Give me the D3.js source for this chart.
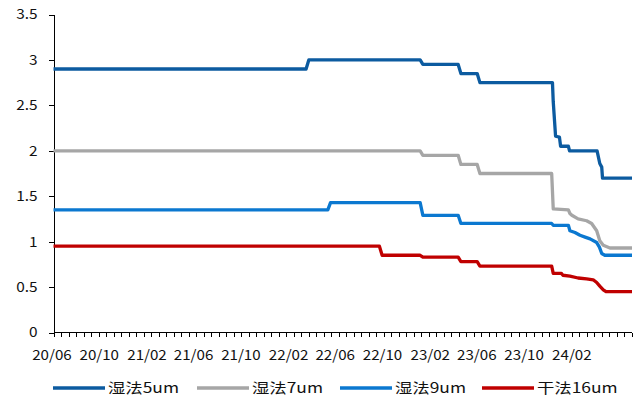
<!DOCTYPE html>
<html><head><meta charset="utf-8">
<script src="https://cdn.jsdelivr.net/npm/d3@7"></script>
<style>
body{margin:0;background:#fff}
svg{display:block}
text{font-family:"Noto Sans CJK SC","Noto Sans",sans-serif;fill:#111}
</style>
</head><body><svg id="c" width="640" height="400"></svg>
<script>
// ---- data ----
const seriesNames = ["湿法5um", "湿法7um", "湿法9um", "干法16um"];
const yTicks = [0, 0.5, 1, 1.5, 2, 2.5, 3, 3.5];
const xLabelDates = ["2020-06-01","2020-10-01","2021-02-01","2021-06-01","2021-10-01","2022-02-01",
                     "2022-06-01","2022-10-01","2023-02-01","2023-06-01","2023-10-01","2024-02-01"];
const dateStart = "2020-06-05";
const dateEnd = "2024-07-05";

const wet5 = [
  ["2020-06-05",2.90],["2022-03-18",2.90],["2022-03-25",3.00],["2023-01-06",3.00],["2023-01-13",2.95],
  ["2023-04-14",2.95],["2023-04-21",2.85],["2023-06-02",2.85],["2023-06-09",2.75],["2023-12-13",2.75],
  ["2023-12-15",2.54],["2023-12-21",2.16],["2023-12-31",2.15],["2024-01-03",2.05],["2024-01-23",2.05],
  ["2024-01-26",2.00],["2024-04-06",2.00],["2024-04-13",1.86],["2024-04-18",1.82],["2024-04-20",1.70],
  ["2024-07-05",1.70]
];
const wet7 = [
  ["2020-06-05",2.00],["2023-01-06",2.00],["2023-01-13",1.95],["2023-04-14",1.95],["2023-04-21",1.85],
  ["2023-06-02",1.85],["2023-06-09",1.75],["2023-12-11",1.75],["2023-12-15",1.36],["2024-01-23",1.35],
  ["2024-01-27",1.31],["2024-02-01",1.29],["2024-02-17",1.25],["2024-03-10",1.23],["2024-03-23",1.20],
  ["2024-04-05",1.12],["2024-04-13",1.01],["2024-04-22",0.96],["2024-05-09",0.93],["2024-07-05",0.93]
];
const wet9 = [
  ["2020-06-05",1.35],["2022-05-13",1.35],["2022-05-20",1.43],["2023-01-06",1.43],["2023-01-13",1.29],
  ["2023-04-14",1.29],["2023-04-21",1.20],["2023-12-11",1.20],["2023-12-15",1.18],["2024-01-23",1.18],
  ["2024-01-27",1.12],["2024-02-09",1.10],["2024-02-22",1.07],["2024-03-06",1.05],["2024-03-19",1.03],
  ["2024-04-05",0.99],["2024-04-12",0.94],["2024-04-18",0.87],["2024-04-26",0.85],["2024-07-05",0.85]
];
const dry16 = [
  ["2020-06-05",0.95],["2022-09-23",0.95],["2022-09-30",0.85],["2023-01-06",0.85],["2023-01-13",0.83],
  ["2023-04-14",0.83],["2023-04-21",0.78],["2023-06-02",0.78],["2023-06-09",0.73],["2023-12-11",0.73],
  ["2023-12-15",0.65],["2024-01-05",0.65],["2024-01-09",0.63],["2024-01-27",0.62],["2024-02-17",0.60],
  ["2024-03-10",0.59],["2024-03-27",0.58],["2024-04-05",0.55],["2024-04-13",0.51],["2024-04-22",0.47],
  ["2024-04-29",0.45],["2024-07-05",0.45]
];
const seriesData = [wet5, wet7, wet9, dry16];
const colors = ["#0c5ba0", "#a6a6a6", "#0b78d0", "#c00000"];

// ---- chart ----
const parse = d3.timeParse("%Y-%m-%d");
const svg = d3.select("#c");
const mLeft = 53.5, mRight = 632, mTop = 14.5, mBottom = 332.5;

const x = d3.scaleTime().domain([parse(dateStart), parse(dateEnd)]).range([mLeft, mRight]);
const y = d3.scaleLinear().domain([0, 3.5]).range([mBottom, mTop]);

function widen(sel, k) {
  sel.each(function () {
    const L = this.getComputedTextLength();
    d3.select(this).attr("textLength", L * k).attr("lengthAdjust", "spacingAndGlyphs");
  });
}

// y axis
const yAxis = svg.append("g").attr("transform", `translate(${mLeft},0)`)
  .call(d3.axisLeft(y).tickValues(yTicks).tickSize(5).tickPadding(11).tickFormat(d => String(d)));
yAxis.selectAll("path,line").attr("stroke", "#000").attr("stroke-width", 1).attr("shape-rendering","crispEdges");
yAxis.select(".domain").attr("d", `M0.5,${mTop}V${mBottom}`);
yAxis.selectAll("text").attr("font-size", 14).attr("fill", "#111")
  .style("font-family", '"Noto Sans CJK SC","Noto Sans",sans-serif');
widen(yAxis.selectAll("text"), 1.1);

// x axis line + minor ticks
const gx = svg.append("g");
gx.append("line").attr("x1", mLeft).attr("x2", mRight).attr("y1", mBottom).attr("y2", mBottom)
  .attr("stroke", "#000").attr("shape-rendering","crispEdges");
const dayMs = 86400000;
const t0 = parse(dateStart).getTime(), t1 = parse(dateEnd).getTime();
const tickDates = d3.range(t0, t1 + 1, 19.35 * dayMs).map(t => new Date(t));
gx.selectAll("line.tk").data(tickDates).join("line").attr("class","tk")
  .attr("x1", d => Math.round(x(d)) + 0.5).attr("x2", d => Math.round(x(d)) + 0.5)
  .attr("y1", mBottom).attr("y2", mBottom + 4)
  .attr("stroke", "#000").attr("shape-rendering","crispEdges");
const fmt = d3.timeFormat("%y/%m");
const xl = gx.selectAll("text.xl").data(xLabelDates.map(parse)).join("text").attr("class","xl")
  .attr("x", d => x(d)).attr("y", 360)
  .attr("text-anchor", "middle").attr("font-size", 14)
  .text(d => fmt(d));
widen(xl, 1.08);

// lines
const line = d3.line().x(d => x(parse(d[0]))).y(d => y(d[1]));
seriesData.forEach((s, i) => {
  svg.append("path").datum(s).attr("d", line)
    .attr("fill", "none").attr("stroke", colors[i]).attr("stroke-width", 3.3)
    .attr("stroke-linejoin", "round").attr("stroke-linecap", "butt");
});

// legend
const legendX = [53, 197, 340, 482];
const lg = svg.append("g");
seriesNames.forEach((n, i) => {
  lg.append("line").attr("x1", legendX[i]).attr("x2", legendX[i] + 52)
    .attr("y1", 388).attr("y2", 388).attr("stroke", colors[i]).attr("stroke-width", 3.3);
  const t = lg.append("text").attr("x", legendX[i] + 55).attr("y", 393).attr("font-size", 14).text(n);
  widen(t, 1.24);
});
</script>
</body></html>
